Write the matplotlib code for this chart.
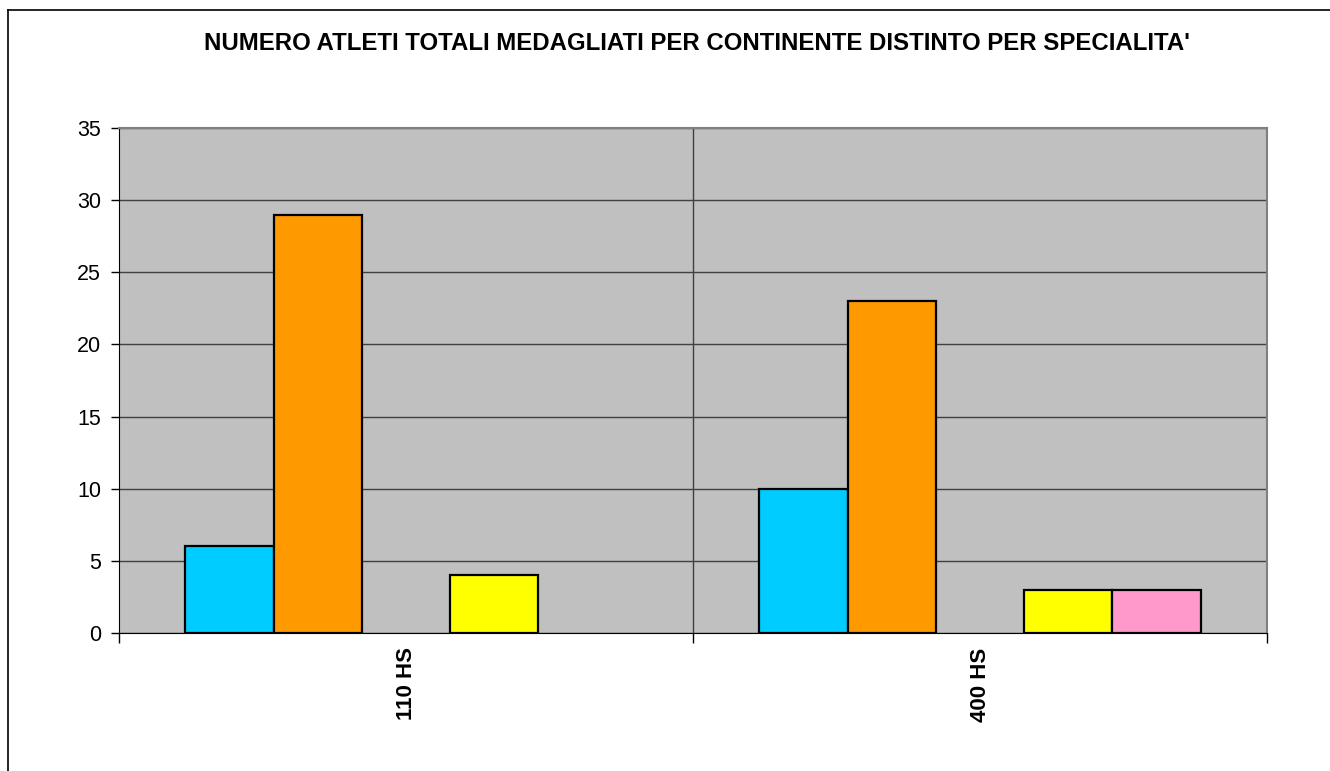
import numpy as np
import matplotlib
matplotlib.use('Agg')
import matplotlib.pyplot as plt
from matplotlib.lines import Line2D

plt.rcParams['font.family'] = ['Liberation Sans', 'DejaVu Sans']

# Data
categories = ["110 HS", "400 HS"]
series_colors = ["#00CCFF", "#FF9900", "#99CC00", "#FFFF00", "#FF99CC"]
# values per series (one list per continent), by category
series_values = [
    [6, 10],
    [29, 23],
    [0, 0],
    [4, 3],
    [0, 3],
]
title = "NUMERO ATLETI TOTALI MEDAGLIATI PER CONTINENTE DISTINTO PER SPECIALITA'"
y_ticks = [0, 5, 10, 15, 20, 25, 30, 35]

W, H = 1330, 771
fig = plt.figure(figsize=(W / 100, H / 100), dpi=100)

# outer chart border (only left/top visible in the reference)
fig.add_artist(Line2D([8 / W, 8 / W], [0, 1 - 10 / H], transform=fig.transFigure, color="black", lw=1.2))
fig.add_artist(Line2D([8 / W, 1], [1 - 10 / H, 1 - 10 / H], transform=fig.transFigure, color="black", lw=1.2))

left, right, top, bottom = 119, 1267, 128, 633
ax = fig.add_axes([left / W, 1 - bottom / H, (right - left) / W, (bottom - top) / H])
ax.set_facecolor("#C0C0C0")

n = len(series_values)
width = 1 / (n + 1.5)
centers = np.arange(len(categories)) + 0.5
for i, (vals, col) in enumerate(zip(series_values, series_colors)):
    xs = centers + (i - (n - 1) / 2) * width
    lws = [1.6 if v > 0 else 0 for v in vals]
    ax.bar(xs, vals, width=width, color=col, edgecolor="black", linewidth=lws, zorder=3)

ax.set_xlim(0, len(categories))
ax.set_ylim(0, 35)
ax.set_yticks(y_ticks)
ax.set_yticklabels([str(t) for t in y_ticks], fontsize=15.5)
ax.yaxis.grid(True, color="#404040", linewidth=1, zorder=1)
ax.set_axisbelow(True)

# category boundaries
ax.set_xticks(np.arange(len(categories) + 1))
ax.set_xticklabels([])
ax.tick_params(axis="x", direction="out", length=7, width=1, color="black")
ax.tick_params(axis="y", direction="out", length=6, width=1, color="black", pad=7)
for xb in range(1, len(categories)):
    ax.axvline(xb, color="#404040", linewidth=1, zorder=1)

for c, lab in zip(centers, categories):
    ax.text(c, -1.0, lab, rotation=90, ha="center", va="top", fontsize=16,
            fontweight="bold", transform=ax.transData)

for s in ["top", "right"]:
    ax.spines[s].set_color("#808080")
    ax.spines[s].set_linewidth(1.5)
ax.spines["left"].set_color("black")
ax.spines["bottom"].set_color("black")

fig.text(697 / W, 1 - 43 / H, title, ha="center", va="center", fontsize=17.3, fontweight="bold")

plt.savefig("out.png", dpi=100)
